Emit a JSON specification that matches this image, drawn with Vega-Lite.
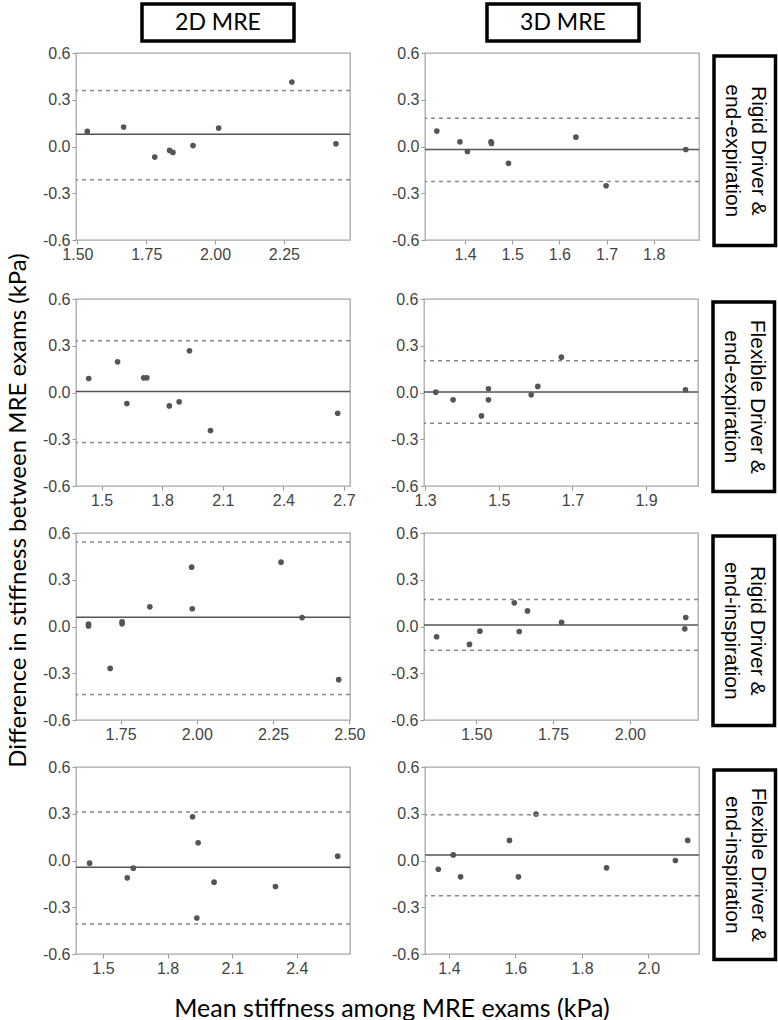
{
  "$schema": "https://vega.github.io/schema/vega-lite/v6.json",
  "padding": {"left": 6, "top": 2, "right": 0, "bottom": 0},
  "background": "white",
  "config": {
    "view": {"stroke": "#a8a8a8", "strokeWidth": 1.3},
    "axis": {"domain": false, "grid": false, "ticks": true, "tickColor": "#999", "tickSize": 4, "labelFont": "Liberation Sans", "labelFontSize": 16, "labelColor": "#444", "labelPadding": 2, "labelFlush": false},
    "font": "Liberation Sans"
  },
  "datasets": {
    "pts": [
      {"p": 1, "m": 1.536, "d": 0.097}, {"p": 1, "m": 1.668, "d": 0.125}, {"p": 1, "m": 1.781, "d": -0.068}, {"p": 1, "m": 1.835, "d": -0.025}, {"p": 1, "m": 1.847, "d": -0.038}, {"p": 1, "m": 1.920, "d": 0.006}, {"p": 1, "m": 2.013, "d": 0.118}, {"p": 1, "m": 2.279, "d": 0.414}, {"p": 1, "m": 2.439, "d": 0.017},
      {"p": 2, "m": 1.340, "d": 0.099}, {"p": 2, "m": 1.389, "d": 0.030}, {"p": 2, "m": 1.405, "d": -0.032}, {"p": 2, "m": 1.455, "d": 0.030}, {"p": 2, "m": 1.456, "d": 0.020}, {"p": 2, "m": 1.492, "d": -0.108}, {"p": 2, "m": 1.635, "d": 0.060}, {"p": 2, "m": 1.699, "d": -0.252}, {"p": 2, "m": 1.868, "d": -0.019},
      {"p": 3, "m": 1.436, "d": 0.090}, {"p": 3, "m": 1.579, "d": 0.197}, {"p": 3, "m": 1.625, "d": -0.071}, {"p": 3, "m": 1.708, "d": 0.094}, {"p": 3, "m": 1.724, "d": 0.094}, {"p": 3, "m": 1.835, "d": -0.086}, {"p": 3, "m": 1.884, "d": -0.060}, {"p": 3, "m": 1.935, "d": 0.268}, {"p": 3, "m": 2.039, "d": -0.244}, {"p": 3, "m": 2.669, "d": -0.133},
      {"p": 4, "m": 1.329, "d": 0.002}, {"p": 4, "m": 1.376, "d": -0.047}, {"p": 4, "m": 1.453, "d": -0.150}, {"p": 4, "m": 1.472, "d": 0.024}, {"p": 4, "m": 1.472, "d": -0.047}, {"p": 4, "m": 1.588, "d": -0.015}, {"p": 4, "m": 1.606, "d": 0.039}, {"p": 4, "m": 1.670, "d": 0.227}, {"p": 4, "m": 2.007, "d": 0.017},
      {"p": 5, "m": 1.645, "d": 0.004}, {"p": 5, "m": 1.645, "d": 0.015}, {"p": 5, "m": 1.716, "d": -0.269}, {"p": 5, "m": 1.755, "d": 0.017}, {"p": 5, "m": 1.755, "d": 0.030}, {"p": 5, "m": 1.846, "d": 0.126}, {"p": 5, "m": 1.983, "d": 0.381}, {"p": 5, "m": 1.985, "d": 0.114}, {"p": 5, "m": 2.276, "d": 0.413}, {"p": 5, "m": 2.345, "d": 0.057}, {"p": 5, "m": 2.465, "d": -0.341},
      {"p": 6, "m": 1.371, "d": -0.066}, {"p": 6, "m": 1.478, "d": -0.115}, {"p": 6, "m": 1.512, "d": -0.030}, {"p": 6, "m": 1.624, "d": 0.152}, {"p": 6, "m": 1.640, "d": -0.032}, {"p": 6, "m": 1.667, "d": 0.100}, {"p": 6, "m": 1.778, "d": 0.026}, {"p": 6, "m": 2.182, "d": 0.058}, {"p": 6, "m": 2.179, "d": -0.015},
      {"p": 7, "m": 1.438, "d": -0.017}, {"p": 7, "m": 1.613, "d": -0.111}, {"p": 7, "m": 1.641, "d": -0.049}, {"p": 7, "m": 1.916, "d": 0.281}, {"p": 7, "m": 1.942, "d": 0.114}, {"p": 7, "m": 1.936, "d": -0.369}, {"p": 7, "m": 2.016, "d": -0.139}, {"p": 7, "m": 2.301, "d": -0.167}, {"p": 7, "m": 2.590, "d": 0.028},
      {"p": 8, "m": 1.368, "d": -0.056}, {"p": 8, "m": 1.413, "d": 0.036}, {"p": 8, "m": 1.435, "d": -0.105}, {"p": 8, "m": 1.582, "d": 0.129}, {"p": 8, "m": 1.609, "d": -0.105}, {"p": 8, "m": 1.662, "d": 0.298}, {"p": 8, "m": 1.874, "d": -0.047}, {"p": 8, "m": 2.081, "d": 0.000}, {"p": 8, "m": 2.118, "d": 0.129}
    ],
    "lines": [
      {"p": 1, "t": "mean", "d": 0.078}, {"p": 1, "t": "loa", "d": 0.359}, {"p": 1, "t": "loa", "d": -0.213},
      {"p": 2, "t": "mean", "d": -0.019}, {"p": 2, "t": "loa", "d": 0.181}, {"p": 2, "t": "loa", "d": -0.224},
      {"p": 3, "t": "mean", "d": 0.006}, {"p": 3, "t": "loa", "d": 0.332}, {"p": 3, "t": "loa", "d": -0.321},
      {"p": 4, "t": "mean", "d": 0.004}, {"p": 4, "t": "loa", "d": 0.204}, {"p": 4, "t": "loa", "d": -0.197},
      {"p": 5, "t": "mean", "d": 0.059}, {"p": 5, "t": "loa", "d": 0.543}, {"p": 5, "t": "loa", "d": -0.436},
      {"p": 6, "t": "mean", "d": 0.009}, {"p": 6, "t": "loa", "d": 0.173}, {"p": 6, "t": "loa", "d": -0.152},
      {"p": 7, "t": "mean", "d": -0.043}, {"p": 7, "t": "loa", "d": 0.311}, {"p": 7, "t": "loa", "d": -0.407},
      {"p": 8, "t": "mean", "d": 0.036}, {"p": 8, "t": "loa", "d": 0.294}, {"p": 8, "t": "loa", "d": -0.227}
    ],
    "labels": [
      {"row": 1, "i": 1, "s": "Rigid Driver &"}, {"row": 1, "i": 2, "s": "end-expiration"},
      {"row": 2, "i": 1, "s": "Flexible Driver &"}, {"row": 2, "i": 2, "s": "end-expiration"},
      {"row": 3, "i": 1, "s": "Rigid Driver &"}, {"row": 3, "i": 2, "s": "end-inspiration"},
      {"row": 4, "i": 1, "s": "Flexible Driver &"}, {"row": 4, "i": 2, "s": "end-inspiration"}
    ]
  },
  "spacing": 1,
  "vconcat": [
    {
      "spacing": 0,
      "hconcat": [
        {"width": 64, "height": 37, "view": {"stroke": null}, "data": {"values": []}, "mark": {"type": "text"}, "encoding": {}},
        {"width": 152, "height": 37, "view": {"stroke": "black", "strokeWidth": 3.5}, "data": {"values": [{"s": "2D MRE"}]}, "mark": {"type": "text", "font": "Lato", "fontSize": 23, "color": "black"}, "encoding": {"text": {"field": "s"}}},
        {"width": 189, "height": 37, "view": {"stroke": null}, "data": {"values": []}, "mark": {"type": "text"}, "encoding": {}},
        {"width": 152, "height": 37, "view": {"stroke": "black", "strokeWidth": 3.5}, "data": {"values": [{"s": "3D MRE"}]}, "mark": {"type": "text", "font": "Lato", "fontSize": 23, "color": "black"}, "encoding": {"text": {"field": "s"}}}
      ]
    },
    {
      "title": {"text": "Mean stiffness among MRE exams (kPa)", "orient": "bottom", "anchor": "middle", "font": "Lato", "fontSize": 25, "fontWeight": "normal", "color": "black", "offset": 20},
      "vconcat": [
        {
          "title": {"text": "Difference in stiffness between MRE exams (kPa)", "orient": "left", "anchor": "middle", "font": "Lato", "fontSize": 24, "fontWeight": "normal", "color": "black", "offset": 11},
          "spacing": 27,
          "vconcat": [
            {
              "spacing": 11,
              "hconcat": [
                {
                  "width": 274, "height": 187,
                  "layer": [
                    {"data": {"name": "pts"}, "transform": [{"filter": "datum.p == 1"}], "mark": {"type": "circle", "size": 32, "color": "#555", "opacity": 1},
                     "encoding": {"x": {"field": "m", "type": "quantitative", "scale": {"domain": [1.495, 2.49], "nice": false, "zero": false}, "axis": {"values": [1.5, 1.75, 2, 2.25], "format": ".2f", "title": null}},
                                  "y": {"field": "d", "type": "quantitative", "scale": {"domain": [-0.6, 0.6], "nice": false}, "axis": {"values": [-0.6, -0.3, 0, 0.3, 0.6], "labelExpr": "datum.value < 0 ? '-' + format(-datum.value, '.1f') : format(datum.value, '.1f')", "title": null}}}},
                    {"data": {"name": "lines"}, "transform": [{"filter": "datum.p == 1 && datum.t == 'mean'"}], "mark": {"type": "rule", "color": "#555", "strokeWidth": 1.5}, "encoding": {"y": {"field": "d", "type": "quantitative"}}},
                    {"data": {"name": "lines"}, "transform": [{"filter": "datum.p == 1 && datum.t == 'loa'"}], "mark": {"type": "rule", "color": "#888", "strokeWidth": 1.5, "strokeDash": [4, 4]}, "encoding": {"y": {"field": "d", "type": "quantitative"}}}
                  ]
                },
                {
                  "width": 274, "height": 187,
                  "layer": [
                    {"data": {"name": "pts"}, "transform": [{"filter": "datum.p == 2"}], "mark": {"type": "circle", "size": 32, "color": "#555", "opacity": 1},
                     "encoding": {"x": {"field": "m", "type": "quantitative", "scale": {"domain": [1.315, 1.896], "nice": false, "zero": false}, "axis": {"values": [1.4, 1.5, 1.6, 1.7, 1.8], "format": ".1f", "title": null}},
                                  "y": {"field": "d", "type": "quantitative", "scale": {"domain": [-0.6, 0.6], "nice": false}, "axis": {"values": [-0.6, -0.3, 0, 0.3, 0.6], "labelExpr": "datum.value < 0 ? '-' + format(-datum.value, '.1f') : format(datum.value, '.1f')", "title": null, "minExtent": 61}}}},
                    {"data": {"name": "lines"}, "transform": [{"filter": "datum.p == 2 && datum.t == 'mean'"}], "mark": {"type": "rule", "color": "#555", "strokeWidth": 1.5}, "encoding": {"y": {"field": "d", "type": "quantitative"}}},
                    {"data": {"name": "lines"}, "transform": [{"filter": "datum.p == 2 && datum.t == 'loa'"}], "mark": {"type": "rule", "color": "#888", "strokeWidth": 1.5, "strokeDash": [4, 4]}, "encoding": {"y": {"field": "d", "type": "quantitative"}}}
                  ]
                },
                {
                  "spacing": 0,
                  "vconcat": [
                    {"width": 61.5, "height": 1, "view": {"stroke": null}, "data": {"values": []}, "mark": {"type": "text"}, "encoding": {}},
                    {"width": 61.5, "height": 189.5, "view": {"stroke": "black", "strokeWidth": 3.5}, "data": {"name": "labels"}, "transform": [{"filter": "datum.row == 1"}],
                     "mark": {"type": "text", "angle": 90, "font": "Liberation Sans", "fontSize": 21, "color": "black"},
                     "encoding": {"x": {"field": "i", "type": "ordinal", "sort": "descending", "axis": null, "scale": {"type": "point", "padding": 0.68}}, "text": {"field": "s"}}}
                  ]
                }
              ]
            },
            {
              "spacing": 15,
              "vconcat": [
                {
                  "spacing": 11,
                  "hconcat": [
                    {
                      "width": 274, "height": 187,
                      "layer": [
                        {"data": {"name": "pts"}, "transform": [{"filter": "datum.p == 3"}], "mark": {"type": "circle", "size": 32, "color": "#555", "opacity": 1},
                         "encoding": {"x": {"field": "m", "type": "quantitative", "scale": {"domain": [1.373, 2.73], "nice": false, "zero": false}, "axis": {"values": [1.5, 1.8, 2.1, 2.4, 2.7], "format": ".1f", "title": null}},
                                      "y": {"field": "d", "type": "quantitative", "scale": {"domain": [-0.6, 0.6], "nice": false}, "axis": {"values": [-0.6, -0.3, 0, 0.3, 0.6], "labelExpr": "datum.value < 0 ? '-' + format(-datum.value, '.1f') : format(datum.value, '.1f')", "title": null}}}},
                        {"data": {"name": "lines"}, "transform": [{"filter": "datum.p == 3 && datum.t == 'mean'"}], "mark": {"type": "rule", "color": "#555", "strokeWidth": 1.5}, "encoding": {"y": {"field": "d", "type": "quantitative"}}},
                        {"data": {"name": "lines"}, "transform": [{"filter": "datum.p == 3 && datum.t == 'loa'"}], "mark": {"type": "rule", "color": "#888", "strokeWidth": 1.5, "strokeDash": [4, 4]}, "encoding": {"y": {"field": "d", "type": "quantitative"}}}
                      ]
                    },
                    {
                      "width": 274, "height": 187,
                      "layer": [
                        {"data": {"name": "pts"}, "transform": [{"filter": "datum.p == 4"}], "mark": {"type": "circle", "size": 32, "color": "#555", "opacity": 1},
                         "encoding": {"x": {"field": "m", "type": "quantitative", "scale": {"domain": [1.297, 2.041], "nice": false, "zero": false}, "axis": {"values": [1.3, 1.5, 1.7, 1.9], "format": ".1f", "title": null}},
                                      "y": {"field": "d", "type": "quantitative", "scale": {"domain": [-0.6, 0.6], "nice": false}, "axis": {"values": [-0.6, -0.3, 0, 0.3, 0.6], "labelExpr": "datum.value < 0 ? '-' + format(-datum.value, '.1f') : format(datum.value, '.1f')", "title": null, "minExtent": 56}}}},
                        {"data": {"name": "lines"}, "transform": [{"filter": "datum.p == 4 && datum.t == 'mean'"}], "mark": {"type": "rule", "color": "#555", "strokeWidth": 1.5}, "encoding": {"y": {"field": "d", "type": "quantitative"}}},
                        {"data": {"name": "lines"}, "transform": [{"filter": "datum.p == 4 && datum.t == 'loa'"}], "mark": {"type": "rule", "color": "#888", "strokeWidth": 1.5, "strokeDash": [4, 4]}, "encoding": {"y": {"field": "d", "type": "quantitative"}}}
                      ]
                    },
                    {
                      "spacing": 0,
                      "vconcat": [
                        {"width": 61.5, "height": 1, "view": {"stroke": null}, "data": {"values": []}, "mark": {"type": "text"}, "encoding": {}},
                        {"width": 61.5, "height": 189.5, "view": {"stroke": "black", "strokeWidth": 3.5}, "data": {"name": "labels"}, "transform": [{"filter": "datum.row == 2"}],
                         "mark": {"type": "text", "angle": 90, "font": "Liberation Sans", "fontSize": 21, "color": "black"},
                         "encoding": {"x": {"field": "i", "type": "ordinal", "sort": "descending", "axis": null, "scale": {"type": "point", "padding": 0.68}}, "text": {"field": "s"}}}
                      ]
                    }
                  ]
                },
                {
                  "spacing": 11,
                  "hconcat": [
                    {
                      "width": 274, "height": 187,
                      "layer": [
                        {"data": {"name": "pts"}, "transform": [{"filter": "datum.p == 5"}], "mark": {"type": "circle", "size": 32, "color": "#555", "opacity": 1},
                         "encoding": {"x": {"field": "m", "type": "quantitative", "scale": {"domain": [1.604, 2.502], "nice": false, "zero": false}, "axis": {"values": [1.75, 2, 2.25, 2.5], "format": ".2f", "title": null}},
                                      "y": {"field": "d", "type": "quantitative", "scale": {"domain": [-0.6, 0.6], "nice": false}, "axis": {"values": [-0.6, -0.3, 0, 0.3, 0.6], "labelExpr": "datum.value < 0 ? '-' + format(-datum.value, '.1f') : format(datum.value, '.1f')", "title": null}}}},
                        {"data": {"name": "lines"}, "transform": [{"filter": "datum.p == 5 && datum.t == 'mean'"}], "mark": {"type": "rule", "color": "#555", "strokeWidth": 1.5}, "encoding": {"y": {"field": "d", "type": "quantitative"}}},
                        {"data": {"name": "lines"}, "transform": [{"filter": "datum.p == 5 && datum.t == 'loa'"}], "mark": {"type": "rule", "color": "#888", "strokeWidth": 1.5, "strokeDash": [4, 4]}, "encoding": {"y": {"field": "d", "type": "quantitative"}}}
                      ]
                    },
                    {
                      "width": 274, "height": 187,
                      "layer": [
                        {"data": {"name": "pts"}, "transform": [{"filter": "datum.p == 6"}], "mark": {"type": "circle", "size": 32, "color": "#555", "opacity": 1},
                         "encoding": {"x": {"field": "m", "type": "quantitative", "scale": {"domain": [1.33, 2.222], "nice": false, "zero": false}, "axis": {"values": [1.5, 1.75, 2], "format": ".2f", "title": null}},
                                      "y": {"field": "d", "type": "quantitative", "scale": {"domain": [-0.6, 0.6], "nice": false}, "axis": {"values": [-0.6, -0.3, 0, 0.3, 0.6], "labelExpr": "datum.value < 0 ? '-' + format(-datum.value, '.1f') : format(datum.value, '.1f')", "title": null, "minExtent": 46}}}},
                        {"data": {"name": "lines"}, "transform": [{"filter": "datum.p == 6 && datum.t == 'mean'"}], "mark": {"type": "rule", "color": "#555", "strokeWidth": 1.5}, "encoding": {"y": {"field": "d", "type": "quantitative"}}},
                        {"data": {"name": "lines"}, "transform": [{"filter": "datum.p == 6 && datum.t == 'loa'"}], "mark": {"type": "rule", "color": "#888", "strokeWidth": 1.5, "strokeDash": [4, 4]}, "encoding": {"y": {"field": "d", "type": "quantitative"}}}
                      ]
                    },
                    {
                      "spacing": 0,
                      "vconcat": [
                        {"width": 61.5, "height": 1, "view": {"stroke": null}, "data": {"values": []}, "mark": {"type": "text"}, "encoding": {}},
                        {"width": 61.5, "height": 189.5, "view": {"stroke": "black", "strokeWidth": 3.5}, "data": {"name": "labels"}, "transform": [{"filter": "datum.row == 3"}],
                         "mark": {"type": "text", "angle": 90, "font": "Liberation Sans", "fontSize": 21, "color": "black"},
                         "encoding": {"x": {"field": "i", "type": "ordinal", "sort": "descending", "axis": null, "scale": {"type": "point", "padding": 0.68}}, "text": {"field": "s"}}}
                      ]
                    }
                  ]
                },
                {
                  "spacing": 11,
                  "hconcat": [
                    {
                      "width": 274, "height": 187,
                      "layer": [
                        {"data": {"name": "pts"}, "transform": [{"filter": "datum.p == 7"}], "mark": {"type": "circle", "size": 32, "color": "#555", "opacity": 1},
                         "encoding": {"x": {"field": "m", "type": "quantitative", "scale": {"domain": [1.375, 2.647], "nice": false, "zero": false}, "axis": {"values": [1.5, 1.8, 2.1, 2.4], "format": ".1f", "title": null}},
                                      "y": {"field": "d", "type": "quantitative", "scale": {"domain": [-0.6, 0.6], "nice": false}, "axis": {"values": [-0.6, -0.3, 0, 0.3, 0.6], "labelExpr": "datum.value < 0 ? '-' + format(-datum.value, '.1f') : format(datum.value, '.1f')", "title": null}}}},
                        {"data": {"name": "lines"}, "transform": [{"filter": "datum.p == 7 && datum.t == 'mean'"}], "mark": {"type": "rule", "color": "#555", "strokeWidth": 1.5}, "encoding": {"y": {"field": "d", "type": "quantitative"}}},
                        {"data": {"name": "lines"}, "transform": [{"filter": "datum.p == 7 && datum.t == 'loa'"}], "mark": {"type": "rule", "color": "#888", "strokeWidth": 1.5, "strokeDash": [4, 4]}, "encoding": {"y": {"field": "d", "type": "quantitative"}}}
                      ]
                    },
                    {
                      "width": 274, "height": 187,
                      "layer": [
                        {"data": {"name": "pts"}, "transform": [{"filter": "datum.p == 8"}], "mark": {"type": "circle", "size": 32, "color": "#555", "opacity": 1},
                         "encoding": {"x": {"field": "m", "type": "quantitative", "scale": {"domain": [1.328, 2.152], "nice": false, "zero": false}, "axis": {"values": [1.4, 1.6, 1.8, 2.0], "format": ".1f", "title": null}},
                                      "y": {"field": "d", "type": "quantitative", "scale": {"domain": [-0.6, 0.6], "nice": false}, "axis": {"values": [-0.6, -0.3, 0, 0.3, 0.6], "labelExpr": "datum.value < 0 ? '-' + format(-datum.value, '.1f') : format(datum.value, '.1f')", "title": null, "minExtent": 61}}}},
                        {"data": {"name": "lines"}, "transform": [{"filter": "datum.p == 8 && datum.t == 'mean'"}], "mark": {"type": "rule", "color": "#555", "strokeWidth": 1.5}, "encoding": {"y": {"field": "d", "type": "quantitative"}}},
                        {"data": {"name": "lines"}, "transform": [{"filter": "datum.p == 8 && datum.t == 'loa'"}], "mark": {"type": "rule", "color": "#888", "strokeWidth": 1.5, "strokeDash": [4, 4]}, "encoding": {"y": {"field": "d", "type": "quantitative"}}}
                      ]
                    },
                    {
                      "spacing": 0,
                      "vconcat": [
                        {"width": 61.5, "height": 1, "view": {"stroke": null}, "data": {"values": []}, "mark": {"type": "text"}, "encoding": {}},
                        {"width": 61.5, "height": 189.5, "view": {"stroke": "black", "strokeWidth": 3.5}, "data": {"name": "labels"}, "transform": [{"filter": "datum.row == 4"}],
                         "mark": {"type": "text", "angle": 90, "font": "Liberation Sans", "fontSize": 21, "color": "black"},
                         "encoding": {"x": {"field": "i", "type": "ordinal", "sort": "descending", "axis": null, "scale": {"type": "point", "padding": 0.68}}, "text": {"field": "s"}}}
                      ]
                    }
                  ]
                }
              ]
            }
          ]
        }
      ]
    }
  ]
}
